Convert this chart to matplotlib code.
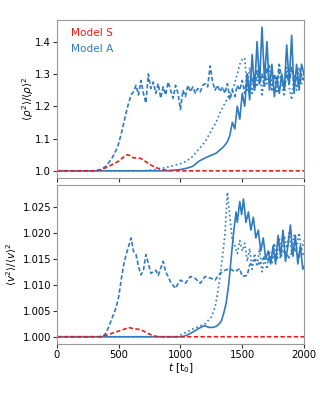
import matplotlib
matplotlib.use("Agg")
import matplotlib.pyplot as plt

# ---- top panel: <rho^2>/<rho>^2 ----
t_rho_S = [0, 300, 350, 400, 450, 500, 540, 570, 590, 620, 650, 680, 720, 760, 800, 850, 900, 950, 2000]
rho_S = [1.0, 1.0, 1.003, 1.01, 1.02, 1.03, 1.043, 1.05, 1.047, 1.04, 1.04, 1.038, 1.028,
         1.018, 1.01, 1.004, 1.001, 1.0, 1.0]

t_rho_A_dash = [0, 320, 350, 400, 450, 480, 500, 530, 560, 580, 600,
                620, 640, 660, 680, 700, 720, 740, 760, 780, 800, 820, 840, 860, 880, 900,
                920, 940, 960, 980, 1000, 1020, 1040, 1060, 1080, 1100, 1120, 1140, 1160,
                1180, 1200, 1220, 1240, 1260, 1280, 1300, 1320, 1340, 1360, 1380, 1400,
                1420, 1440, 1460, 1480, 1500, 1520, 1540, 1560, 1580, 1600, 1620, 1640,
                1660, 1680, 1700, 1720, 1740, 1760, 1780, 1800, 1820, 1840, 1860, 1880,
                1900, 1920, 1940, 1960, 1980, 2000]
rho_A_dash = [1.0, 1.0, 1.003, 1.015, 1.042, 1.065, 1.085, 1.13, 1.18, 1.21, 1.235,
              1.245, 1.265, 1.235, 1.28, 1.24, 1.21, 1.30, 1.255, 1.275, 1.24, 1.27, 1.225,
              1.26, 1.235, 1.275, 1.25, 1.225, 1.265, 1.24, 1.19, 1.25, 1.23, 1.265, 1.245,
              1.26, 1.24, 1.255, 1.245, 1.265, 1.27, 1.26, 1.325, 1.275, 1.25, 1.265, 1.245,
              1.26, 1.24, 1.27, 1.22, 1.25, 1.23, 1.265, 1.25, 1.28, 1.24, 1.30, 1.26, 1.29,
              1.25, 1.31, 1.27, 1.30, 1.26, 1.32, 1.28, 1.25, 1.30, 1.27, 1.33, 1.28, 1.25,
              1.30, 1.27, 1.32, 1.27, 1.29, 1.25, 1.30, 1.28]

t_rho_A_dot = [0, 700, 800, 900, 1000, 1050, 1100, 1150, 1200, 1250, 1280, 1300, 1320,
               1360, 1400, 1430, 1460, 1480, 1500, 1520, 1540, 1560, 1580, 1600, 1620,
               1640, 1660, 1680, 1700, 1720, 1740, 1760, 1780, 1800, 1820, 1840, 1860,
               1880, 1900, 1920, 1940, 1960, 1980, 2000]
rho_A_dot = [1.0, 1.0, 1.004, 1.012, 1.022, 1.03, 1.045, 1.068, 1.09, 1.125, 1.145, 1.16,
             1.18, 1.21, 1.24, 1.26, 1.30, 1.33, 1.345, 1.35, 1.25, 1.32, 1.24, 1.30, 1.26,
             1.32, 1.23, 1.30, 1.27, 1.33, 1.26, 1.29, 1.24, 1.31, 1.27, 1.23, 1.32, 1.26,
             1.22, 1.30, 1.25, 1.32, 1.27, 1.30]

t_rho_A_solid = [0, 900, 1000, 1050, 1100, 1150, 1200, 1230, 1260, 1290, 1320, 1350,
                 1380, 1400, 1420, 1440, 1460, 1480, 1500, 1520, 1540, 1560, 1580, 1600,
                 1620, 1640, 1660, 1680, 1700, 1720, 1740, 1760, 1780, 1800, 1820, 1840,
                 1860, 1880, 1900, 1920, 1940, 1960, 1980, 2000]
rho_A_solid = [1.0, 1.0, 1.004, 1.008, 1.014, 1.03, 1.04, 1.045, 1.05, 1.055, 1.065, 1.075,
               1.09, 1.11, 1.15, 1.13, 1.2, 1.16, 1.24, 1.2, 1.3, 1.22, 1.36, 1.25, 1.40,
               1.27, 1.445, 1.28, 1.40, 1.25, 1.33, 1.23, 1.29, 1.24, 1.30, 1.25, 1.39,
               1.27, 1.42, 1.24, 1.33, 1.26, 1.33, 1.30]

# ---- bottom panel: <v^2>/<v>^2 ----
t_v_S = [0, 340, 400, 450, 500, 550, 580, 610, 640, 670, 700, 740, 780, 820, 2000]
v_S = [1.0, 1.0, 1.0003, 1.0007, 1.0011, 1.0015, 1.0018, 1.0016, 1.0015, 1.0014, 1.0011,
       1.0006, 1.0002, 1.0, 1.0]

t_v_A_dash = [0, 370, 400, 450, 480, 500, 520, 540, 560, 580, 600, 620, 640, 660, 680, 700,
              720, 740, 760, 780, 800, 820, 840, 860, 880, 900, 920, 940, 960, 980, 1000,
              1040, 1080, 1120, 1160, 1200, 1240, 1280, 1320, 1360, 1400, 1440, 1480, 1500,
              1540, 1560, 1600, 1640, 1680, 1720, 1760, 1800, 1840, 1880, 1920, 1960, 2000]
v_A_dash = [1.0, 1.0, 1.0008, 1.0038, 1.0057, 1.0077, 1.011, 1.0138, 1.0158, 1.0174,
            1.019, 1.0164, 1.0158, 1.0135, 1.0119, 1.0128, 1.0158, 1.0141, 1.0122, 1.0125,
            1.0128, 1.0118, 1.0132, 1.0145, 1.0125, 1.0116, 1.0105, 1.0099, 1.0093, 1.0102,
            1.0109, 1.0103, 1.0116, 1.0112, 1.0103, 1.0116, 1.0113, 1.0109, 1.0122, 1.0128,
            1.0131, 1.0125, 1.0131, 1.0116, 1.0118, 1.0138, 1.0148, 1.0140, 1.0154, 1.0145,
            1.0158, 1.0150, 1.0165, 1.0152, 1.0170, 1.0155, 1.0160]

t_v_A_dot = [0, 970, 1100, 1200, 1250, 1280, 1300, 1320, 1340, 1360, 1380, 1400, 1420,
             1440, 1460, 1480, 1500, 1520, 1540, 1560, 1580, 1600, 1620, 1640, 1660, 1680,
             1700, 1720, 1740, 1760, 1780, 1800, 1820, 1840, 1860, 1880, 1900, 1920, 1940,
             1960, 1980, 2000]
v_A_dot = [1.0, 1.0, 1.0015, 1.0025, 1.0038, 1.0057, 1.0083, 1.0116, 1.0154, 1.0197,
           1.0278, 1.023, 1.0184, 1.0175, 1.016, 1.0185, 1.0165, 1.018, 1.0145, 1.017,
           1.013, 1.016, 1.0135, 1.017, 1.0125, 1.015, 1.013, 1.0165, 1.014, 1.018, 1.015,
           1.019, 1.016, 1.0195, 1.017, 1.02, 1.016, 1.0195, 1.017, 1.02, 1.0165, 1.0185]

t_v_A_solid = [0, 1000, 1030, 1060, 1100, 1140, 1180, 1200, 1230, 1260, 1290, 1310, 1330,
               1350, 1370, 1390, 1410, 1430, 1450, 1460, 1480, 1495, 1510, 1530, 1550, 1570,
               1590, 1610, 1630, 1650, 1670, 1690, 1710, 1730, 1750, 1770, 1790, 1810, 1830,
               1850, 1870, 1890, 1910, 1930, 1950, 1970, 1990, 2000]
v_A_solid = [1.0, 1.0, 1.0001, 1.0004, 1.0009, 1.0015, 1.002, 1.0021, 1.0018, 1.0018,
             1.002, 1.0024, 1.003, 1.0045, 1.0065, 1.01, 1.015, 1.02, 1.024, 1.022, 1.026,
             1.0235, 1.0265, 1.022, 1.024, 1.0205, 1.023, 1.019, 1.0205, 1.0165, 1.019,
             1.015, 1.0165, 1.014, 1.0175, 1.014, 1.0195, 1.0155, 1.0205, 1.0145, 1.0175,
             1.0215, 1.0155, 1.0195, 1.014, 1.0175, 1.013, 1.0135]

blue = "#2f7bbf"
red = "#e3211c"
lw = 1.2
dash = (0, (2.6, 1.4))

fig = plt.figure(figsize=(3.2, 4.0), dpi=100)
ax1 = fig.add_axes([0.178, 0.555, 0.772, 0.395])
ax2 = fig.add_axes([0.178, 0.14, 0.772, 0.3975], sharex=ax1)

ax1.plot(t_rho_A_solid, rho_A_solid, color=blue, lw=lw, ls="-")
ax1.plot(t_rho_A_dot, rho_A_dot, color=blue, lw=lw, ls=":")
ax1.plot(t_rho_A_dash, rho_A_dash, color=blue, lw=lw, ls=dash)
ax1.plot(t_rho_S, rho_S, color=red, lw=lw, ls=dash)

ax2.plot(t_v_A_solid, v_A_solid, color=blue, lw=lw, ls="-")
ax2.plot(t_v_A_dot, v_A_dot, color=blue, lw=lw, ls=":")
ax2.plot(t_v_A_dash, v_A_dash, color=blue, lw=lw, ls=dash)
ax2.plot(t_v_S, v_S, color=red, lw=lw, ls=dash)

ax1.set_xlim(0, 2000)
ax1.set_yticks([1.0, 1.1, 1.2, 1.3, 1.4])
ax2.set_yticks([1.0, 1.005, 1.01, 1.015, 1.02, 1.025])
ax2.set_xticks([0, 500, 1000, 1500, 2000])
ax1.tick_params(labelbottom=False)

ax1.set_ylabel(r"$\langle\rho^2\rangle/\langle\rho\rangle^2$", fontsize=7.5)
ax2.set_ylabel(r"$\langle v^2\rangle/\langle v\rangle^2$", fontsize=7.5)
ax1.yaxis.set_label_coords(-0.085, 0.5)
ax2.yaxis.set_label_coords(-0.154, 0.5)
ax2.set_xlabel(r"$t$ [t$_0$]", fontsize=7.5, labelpad=1)

for ax in (ax1, ax2):
    ax.tick_params(labelsize=7.2, length=3, pad=1.2, color="#333333")
    for s in ax.spines.values():
        s.set_color("#999999")

ax1.text(0.055, 0.9, "Model S", color=red, transform=ax1.transAxes, fontsize=7.6)
ax1.text(0.055, 0.797, "Model A", color=blue, transform=ax1.transAxes, fontsize=7.6)

fig.savefig("out.png", dpi=100)
